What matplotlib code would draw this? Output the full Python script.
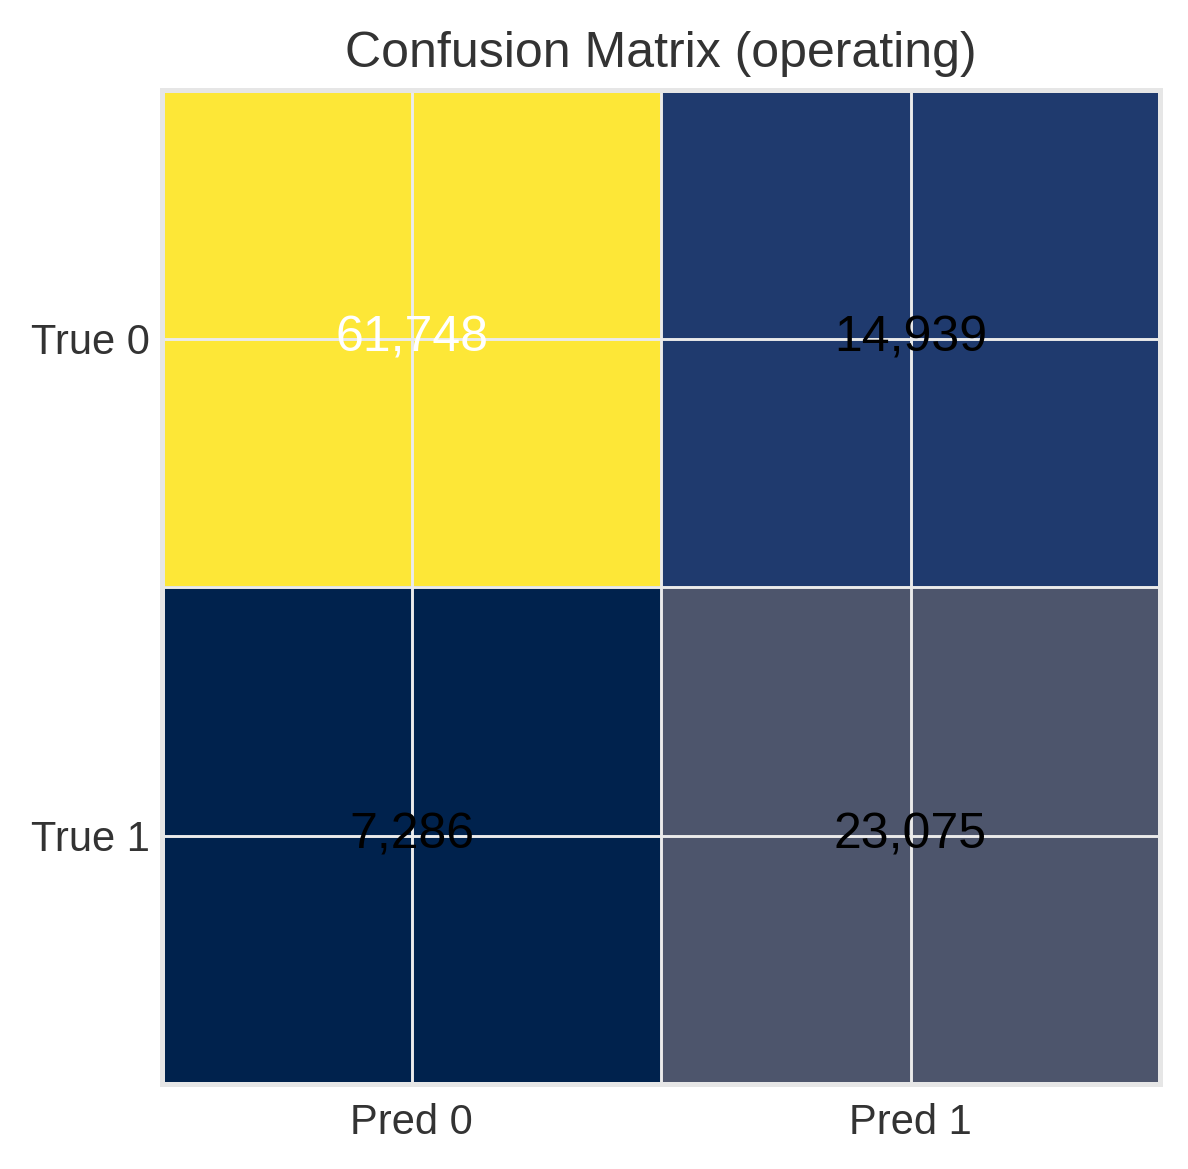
import numpy as np
import matplotlib.pyplot as plt

row_labels = ['True 0', 'True 1']
col_labels = ['Pred 0', 'Pred 1']
counts = np.array([[61748, 14939],
                   [7286, 23075]])

plt.rcParams['font.family'] = ['Liberation Sans', 'DejaVu Sans']
plt.rcParams['text.color'] = '#333333'
plt.rcParams['xtick.color'] = '#333333'
plt.rcParams['ytick.color'] = '#333333'

fig = plt.figure(figsize=(1188/300, 1169/300), dpi=300)
ax = fig.add_axes([162/1188, 1-1084/1169, 998/1188, 994/1169])

ax.imshow(counts, cmap='cividis', aspect='auto', interpolation='nearest')
ax.set_xticks(range(len(col_labels)))
ax.set_xticklabels(col_labels, fontsize=10)
ax.set_yticks(range(len(row_labels)))
ax.set_yticklabels(row_labels, fontsize=10)
ax.set_xticks([0.5], minor=True)
ax.set_yticks([0.5], minor=True)
ax.tick_params(which='both', length=0, pad=3)
ax.tick_params(axis='x', which='both', pad=4.5)
ax.grid(which='both', color='#ebebeb', linewidth=0.7)
for s in ax.spines.values():
    s.set_color('#e6e6e6')
    s.set_linewidth(1.2)

thresh = counts.max() / 2
for i in range(counts.shape[0]):
    for j in range(counts.shape[1]):
        ax.text(j, i, f'{counts[i, j]:,}', ha='center', va='center', fontsize=12,
                color='white' if counts[i, j] > thresh else 'black')

ax.set_title('Confusion Matrix (operating)', fontsize=12, pad=5.5)
fig.savefig('out.png', dpi=300)
